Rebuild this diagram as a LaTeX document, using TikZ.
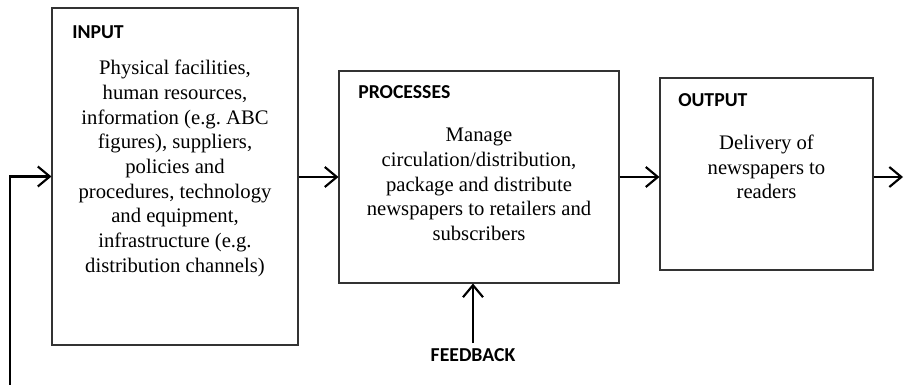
\documentclass[tikz,border=0pt]{standalone}
\usepackage{fontspec}
\setmainfont{Liberation Serif}
\newfontfamily\headfont{Carlito}
\usetikzlibrary{arrows.meta}
\frenchspacing
\begin{document}
\begin{tikzpicture}[x=0.75pt,y=-0.75pt,
  box/.style={draw=black!80, line width=0.8pt, inner sep=0pt},
  head/.style={font=\headfont\bfseries\fontsize{14.8}{17}\selectfont, inner sep=0pt},
  body/.style={align=center, inner sep=0pt, font=\fontsize{15.5}{18.5}\selectfont},
  flow/.style={line width=1.6pt, -{Straight Barb[length=9pt,width=15pt,line width=1.6pt]}}]
\useasboundingbox (0,0) rectangle (904,385);
% boxes
\node[box, minimum width=184.5pt, minimum height=252.75pt] (in) at (175,176.5) {};
\node[box, minimum width=210pt, minimum height=159pt] (proc) at (479,177) {};
\node[box, minimum width=159.75pt, minimum height=144pt] (out) at (766.5,174) {};
% headers
\node[head, anchor=west] (inh) at (72,32) {INPUT};
\node[head, anchor=west] (proch) at (358,92) {PROCESSES};
\node[head, anchor=west] (outh) at (678,100) {OUTPUT};
% bodies
\node[body] (intx) at (175,168.5) {Physical facilities,\\human resources,\\information (e.g. ABC\\figures), suppliers,\\policies and\\procedures, technology\\and equipment,\\infrastructure (e.g.\\distribution channels)};
\node[body] (proctx) at (479,184.5) {Manage\\circulation/distribution,\\package and distribute\\newspapers to retailers and\\subscribers};
\node[body] (outtx) at (766.5,167) {Delivery of\\newspapers to\\readers};
% feedback
\node[head] (fbl) at (473,355) {FEEDBACK};
\coordinate (fb) at (473,343);
\coordinate (loop) at (10,385);
\coordinate (end) at (903,177);
% connectors
\draw[flow] (loop) |- (in.west);
\draw[flow] (in.east |- 0,177) -- (proc.west |- 0,177);
\draw[flow] (proc.east |- 0,177) -- (out.west |- 0,177);
\draw[flow] (out.east |- 0,177) -- (end);
\draw[flow] (fb) -- (fb |- proc.south);
\end{tikzpicture}
\end{document}
